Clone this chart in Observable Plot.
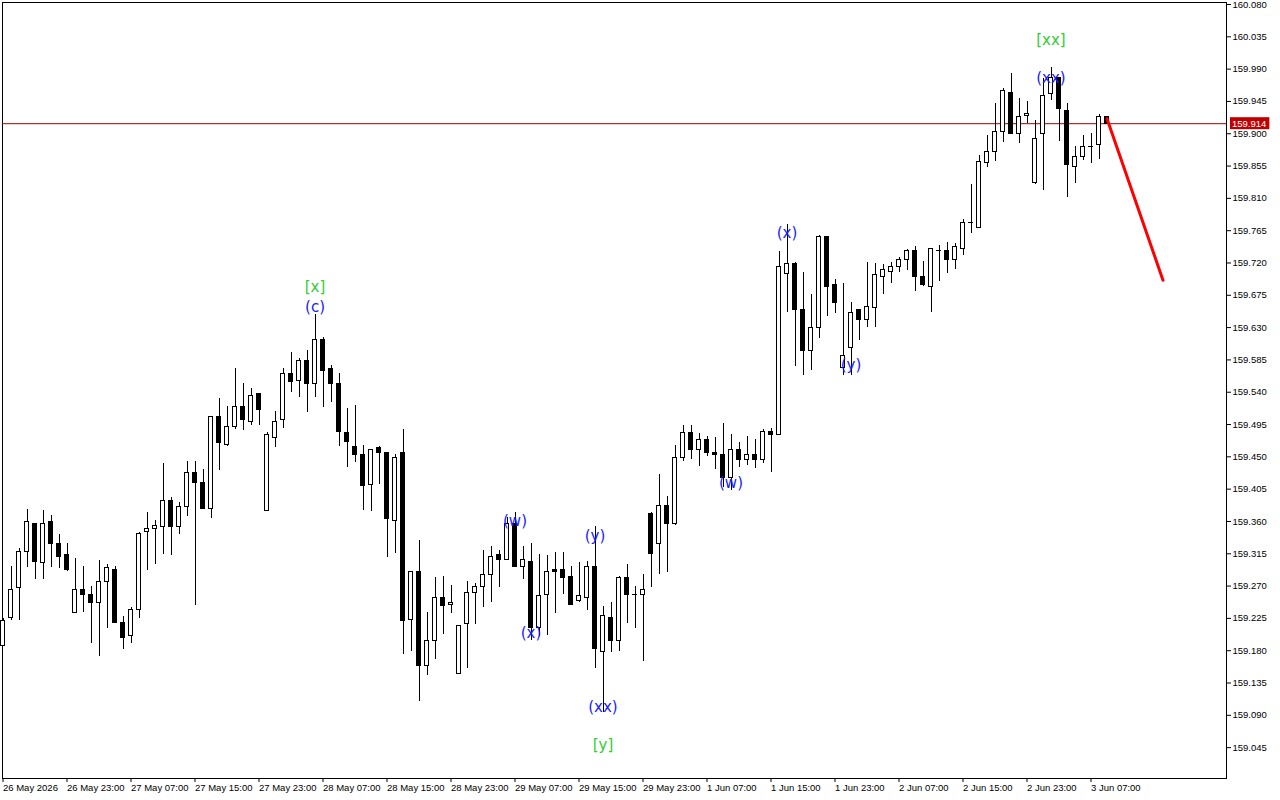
<!DOCTYPE html>
<html><head><meta charset="utf-8">
<script src="https://cdn.jsdelivr.net/npm/d3@7"></script>
<script src="https://cdn.jsdelivr.net/npm/@observablehq/plot@0.6"></script>
<style>html,body{margin:0;padding:0;background:#fff;}#chart{width:1280px;height:800px;}</style>
</head><body><div id="chart"></div>
<script>
const opens = [159.187,159.226,159.268,159.317,159.357,159.302,159.359,159.329,159.313,159.233,159.264,159.258,159.247,159.276,159.292,159.219,159.200,159.237,159.345,159.349,159.352,159.389,159.352,159.380,159.428,159.413,159.377,159.506,159.466,159.491,159.520,159.498,159.538,159.375,159.476,159.501,159.565,159.556,159.584,159.552,159.613,159.573,159.552,159.483,159.464,159.453,159.411,159.462,159.456,159.361,159.456,159.223,159.289,159.159,159.194,159.254,159.244,159.148,159.217,159.260,159.269,159.286,159.313,159.307,159.357,159.297,159.304,159.211,159.258,159.292,159.292,159.283,159.249,159.253,159.297,159.178,159.226,159.193,159.281,159.258,159.258,159.371,159.328,159.381,159.356,159.449,159.483,159.460,159.474,159.456,159.453,159.421,159.460,159.446,159.452,159.446,159.485,159.481,159.705,159.719,159.655,159.598,159.630,159.756,159.689,159.574,159.601,159.655,159.641,159.658,159.701,159.708,159.715,159.724,159.736,159.700,159.687,159.737,159.736,159.724,159.740,159.776,159.769,159.859,159.874,159.903,159.957,159.900,159.925,159.832,159.899,159.955,159.978,159.932,159.854,159.868,159.882,159.884,159.923];
const highs = [159.225,159.297,159.322,159.377,159.357,159.375,159.368,159.342,159.329,159.308,159.297,159.269,159.306,159.300,159.297,159.228,159.240,159.345,159.373,159.361,159.441,159.393,159.386,159.444,159.444,159.432,159.506,159.531,159.520,159.573,159.552,159.545,159.538,159.484,159.513,159.573,159.595,159.587,159.598,159.648,159.616,159.577,159.566,159.517,159.522,159.466,159.460,159.464,159.456,159.453,159.488,159.290,159.334,159.233,159.282,159.283,159.271,159.215,159.276,159.274,159.320,159.325,159.320,159.366,159.373,159.325,159.329,159.314,159.313,159.317,159.317,159.297,159.303,159.304,159.353,159.242,159.247,159.283,159.300,159.269,159.286,159.373,159.425,159.395,159.466,159.494,159.494,159.483,159.478,159.477,159.496,159.481,159.470,159.478,159.474,159.488,159.490,159.736,159.774,159.721,159.707,159.676,159.758,159.756,159.697,159.691,159.665,159.655,159.721,159.719,159.718,159.721,159.728,159.739,159.743,159.722,159.740,159.744,159.749,159.747,159.781,159.829,159.870,159.898,159.942,159.963,159.984,159.949,159.945,159.918,159.977,159.992,159.978,159.942,159.882,159.898,159.900,159.927,159.923];
const lows = [159.186,159.222,159.222,159.296,159.279,159.279,159.296,159.295,159.290,159.233,159.233,159.190,159.172,159.211,159.218,159.182,159.190,159.225,159.292,159.300,159.314,159.313,159.342,159.367,159.243,159.377,159.364,159.431,159.464,159.488,159.487,159.494,159.494,159.375,159.463,159.490,159.540,159.533,159.512,159.533,159.519,159.526,159.464,159.435,159.442,159.375,159.374,159.411,159.310,159.315,159.175,159.179,159.109,159.145,159.168,159.203,159.232,159.148,159.155,159.217,159.240,159.247,159.268,159.306,159.296,159.279,159.194,159.200,159.201,159.232,159.258,159.244,159.247,159.236,159.155,159.094,159.178,159.179,159.218,159.211,159.165,159.268,159.286,159.289,159.354,159.444,159.446,159.437,159.450,159.432,159.407,159.403,159.435,159.438,159.434,159.441,159.428,159.481,159.651,159.576,159.563,159.570,159.615,159.646,159.650,159.563,159.563,159.612,159.630,159.630,159.676,159.691,159.707,159.710,159.680,159.687,159.651,159.694,159.705,159.711,159.730,159.761,159.768,159.853,159.861,159.888,159.899,159.886,159.914,159.829,159.821,159.946,159.889,159.811,159.831,159.863,159.859,159.864,159.914];
const closes = [159.222,159.265,159.318,159.359,159.303,159.357,159.328,159.311,159.292,159.264,159.257,159.246,159.276,159.295,159.219,159.198,159.237,159.343,159.350,159.353,159.388,159.352,159.380,159.428,159.414,159.377,159.505,159.469,159.492,159.520,159.501,159.535,159.515,159.480,159.499,159.566,159.554,159.584,159.551,159.613,159.570,159.552,159.484,159.471,159.452,159.409,159.460,159.455,159.363,159.449,159.222,159.289,159.159,159.194,159.254,159.242,159.247,159.215,159.260,159.269,159.286,159.311,159.307,159.356,159.296,159.307,159.211,159.256,159.290,159.290,159.281,159.244,159.256,159.297,159.183,159.228,159.193,159.281,159.257,159.257,159.265,159.314,159.382,159.357,159.449,159.483,159.459,159.474,159.456,159.453,159.420,159.460,159.446,159.453,159.446,159.485,159.481,159.715,159.718,159.655,159.598,159.630,159.756,159.686,159.664,159.591,159.651,159.641,159.659,159.703,159.710,159.715,159.724,159.736,159.701,159.689,159.739,159.736,159.724,159.742,159.776,159.775,159.860,159.875,159.903,159.959,159.899,159.923,159.928,159.892,159.953,159.978,159.935,159.857,159.868,159.882,159.881,159.923,159.914];

const currentPrice = 159.914;
const timeTickIndex = [0,8,16,24,32,40,48,56,64,72,80,88,96,104,112,120,128,136];
const timeTickLabels = ["26 May 2026","26 May 23:00","27 May 07:00","27 May 15:00","27 May 23:00","28 May 07:00","28 May 15:00","28 May 23:00","29 May 07:00","29 May 15:00","29 May 23:00","1 Jun 07:00","1 Jun 15:00","1 Jun 23:00","2 Jun 07:00","2 Jun 15:00","2 Jun 23:00","3 Jun 07:00"];
const priceTicks = [160.080,160.035,159.990,159.945,159.900,159.855,159.810,159.765,159.720,159.675,159.630,159.585,159.540,159.495,159.450,159.405,159.360,159.315,159.270,159.225,159.180,159.135,159.090,159.045];

const waveText  = ["[x]","(c)","(w)","(x)","(y)","(xx)","[y]","(w)","(x)","(y)","(xx)","[xx]"];
const waveIndex = [39,39,64,66,74,75,75,91,98,106,131,131];
const wavePrice = [159.686,159.659,159.360,159.205,159.339,159.102,159.049,159.414,159.761,159.577,159.978,160.031];
const waveDegree = ["minor","minute","minute","minute","minute","minute","minor","minute","minute","minute","minute","minor"];

const forecastIndex = [138,145];
const forecastPrice = [159.921,159.696];

const candles = opens.map((o,i)=>({k:i,open:o,high:highs[i],low:lows[i],close:closes[i]}));
const waves = waveText.map((t,i)=>({text:t,k:waveIndex[i],price:wavePrice[i],degree:waveDegree[i]}));
const forecast = forecastIndex.map((k,i)=>({k,price:forecastPrice[i]}));

const FONT = "Liberation Sans, Arial, sans-serif";
const W=1280,H=800,mL=2,mR=54,mT=2,mB=22;
const chart = Plot.plot({
  width:W,height:H,marginLeft:mL,marginRight:mR,marginTop:mT,marginBottom:mB,
  style:{fontFamily:FONT,fontSize:"10px",background:"#fff",color:"#000"},
  x:{type:"linear",domain:[-0.0625,152.9375],label:null},
  y:{type:"linear",domain:[159.0020,160.0828],label:null},
  marks:[
    Plot.frame({stroke:"#000"}),
    Plot.ruleY([currentPrice],{stroke:"#a00000",strokeWidth:1}),
    Plot.ruleX(candles,{x:"k",y1:"low",y2:"high",stroke:"#000",strokeWidth:1,shapeRendering:"crispEdges"}),
    Plot.rect(candles,{x1:d=>d.k-0.25,x2:d=>d.k+0.25,y1:"open",y2:"close",
      fill:d=>d.close>=d.open?"#fff":"#000",stroke:"#000",strokeWidth:1,shapeRendering:"crispEdges"}),
    Plot.line(forecast,{x:"k",y:"price",stroke:"#ff0000",strokeWidth:3}),
    Plot.text(waves,{x:"k",y:"price",text:"text",fontSize:15,fontFamily:"DejaVu Sans, sans-serif",
      fill:d=>d.degree==="minor"?"#33cc33":"#1a1aff"}),
    Plot.axisY(priceTicks,{anchor:"right",label:null,tickSize:4,tickPadding:2,tickFormat:d=>d.toFixed(3),fontSize:9.5}),
    Plot.axisX(timeTickIndex,{anchor:"bottom",label:null,tickSize:4,tickPadding:2,textAnchor:"start",
      tickFormat:d=>timeTickLabels[timeTickIndex.indexOf(d)],fontSize:9.5})
  ]
});
document.getElementById("chart").appendChild(chart);
// current price tag on the price axis
const svg = d3.select(chart);
const yPix = chart.scale("y").apply(currentPrice);
const xr = W - mR;
const g = svg.append("g").attr("class","price-tag");
const bg = g.append("rect").attr("fill","#c00000");
const tx = g.append("text").attr("x",xr+6).attr("y",yPix).attr("dy","0.35em").attr("fill","#ffffff")
  .attr("text-anchor","start").style("font-family",FONT).style("font-size","9.5px").text(currentPrice.toFixed(3));
const bb = tx.node().getBBox();
bg.attr("x",xr+4).attr("y",yPix-6).attr("width",bb.width+5).attr("height",12);
</script>
</body></html>
